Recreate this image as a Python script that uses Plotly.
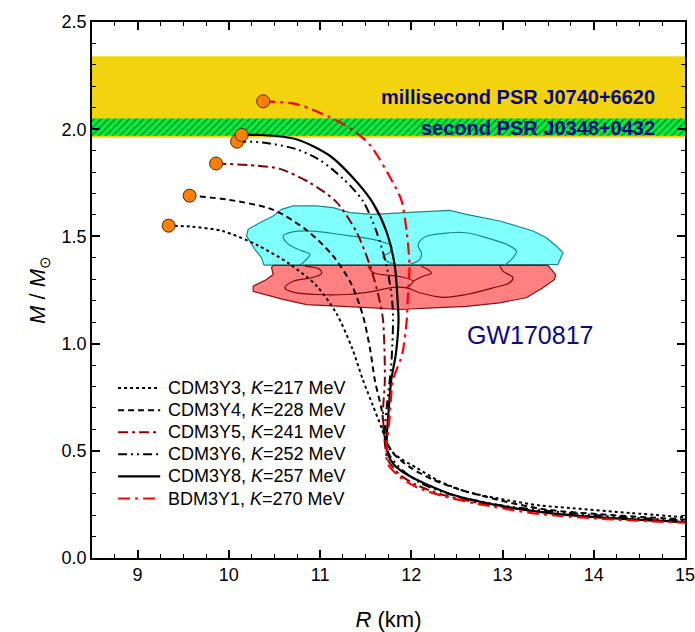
import plotly.graph_objects as go

# ---------------- data ----------------
curve_names = ["CDM3Y3, <i>K</i>=217 MeV", "CDM3Y4, <i>K</i>=228 MeV", "CDM3Y5, <i>K</i>=241 MeV",
               "CDM3Y6, <i>K</i>=252 MeV", "CDM3Y8, <i>K</i>=257 MeV", "BDM3Y1, <i>K</i>=270 MeV"]

r_y3 = [9.34, 9.6, 9.93, 10.31, 10.67, 10.96, 11.18, 11.35, 11.47, 11.58, 11.68, 11.72, 11.78, 11.87, 12.06, 12.3, 12.6, 13.05, 13.41, 13.77, 14.4, 15.0]
m_y3 = [1.55, 1.545, 1.525, 1.46, 1.37, 1.27, 1.14, 0.98, 0.83, 0.71, 0.60, 0.55, 0.50, 0.467, 0.42, 0.36, 0.31, 0.27, 0.245, 0.232, 0.21, 0.19]

r_y4 = [9.57, 10.01, 10.48, 10.85, 11.14, 11.34, 11.47, 11.55, 11.60, 11.68, 11.71, 11.80, 11.98, 12.24, 12.6, 13.41, 14.2, 15.0]
m_y4 = [1.69, 1.67, 1.625, 1.53, 1.41, 1.28, 1.13, 0.97, 0.83, 0.68, 0.565, 0.49, 0.425, 0.365, 0.31, 0.23, 0.20, 0.18]

r_y5 = [9.86, 10.31, 10.56, 10.89, 11.18, 11.40, 11.55, 11.65, 11.69, 11.71, 11.69, 11.71, 11.74, 11.87, 12.06, 12.34, 12.7, 13.4, 14.2, 15.0]
m_y5 = [1.84, 1.83, 1.815, 1.75, 1.66, 1.52, 1.36, 1.205, 1.11, 0.83, 0.68, 0.537, 0.46, 0.39, 0.34, 0.295, 0.26, 0.215, 0.185, 0.168]

r_y6 = [10.09, 10.37, 10.74, 11.0, 11.25, 11.47, 11.62, 11.73, 11.79, 11.80, 11.78, 11.73, 11.71, 11.76, 11.9, 12.1, 12.4, 13.0, 14.0, 15.0]
m_y6 = [1.942, 1.938, 1.907, 1.855, 1.77, 1.665, 1.52, 1.36, 1.20, 1.11, 0.90, 0.70, 0.55, 0.48, 0.41, 0.35, 0.30, 0.245, 0.20, 0.175]

r_y8 = [10.14, 10.37, 10.74, 11.11, 11.41, 11.58, 11.73, 11.82, 11.85, 11.86, 11.83, 11.78, 11.75, 11.73, 11.74, 11.80, 11.91, 12.06, 12.24, 12.42, 12.67, 13.41, 14.14, 15.0]
m_y8 = [1.973, 1.973, 1.953, 1.875, 1.75, 1.655, 1.52, 1.36, 1.20, 1.11, 0.95, 0.83, 0.68, 0.55, 0.49, 0.44, 0.40, 0.365, 0.33, 0.30, 0.27, 0.215, 0.187, 0.168]

r_b1 = [10.376, 10.74, 11.03, 11.29, 11.54, 11.80, 11.89, 11.95, 11.98, 11.96, 11.95, 11.90, 11.80, 11.76, 11.73, 11.74, 11.87, 12.06, 12.34, 12.7, 13.41, 14.2, 15.0]
m_b1 = [2.13, 2.117, 2.07, 2.015, 1.93, 1.75, 1.67, 1.52, 1.36, 1.20, 1.11, 0.95, 0.83, 0.645, 0.52, 0.44, 0.38, 0.33, 0.29, 0.255, 0.205, 0.18, 0.165]

# maximum-mass points
r_max = [9.34, 9.57, 9.86, 10.09, 10.14, 10.376]
m_max = [1.55, 1.69, 1.84, 1.942, 1.973, 2.13]

# observational constraints
psr_j0740 = [1.96, 2.34]
psr_j0348 = [1.97, 2.05]

# GW170817 contours
cyan_out_r = [10.384, 10.359, 10.285, 10.194, 10.212, 10.340, 10.486, 10.578, 10.705, 10.961, 11.143, 11.326, 11.581, 11.837, 12.093, 12.421, 12.604, 12.969, 13.334, 13.480, 13.590, 13.662, 13.607]
cyan_out_m = [1.366, 1.400, 1.439, 1.501, 1.533, 1.564, 1.595, 1.626, 1.642, 1.642, 1.634, 1.611, 1.603, 1.607, 1.614, 1.621, 1.603, 1.572, 1.525, 1.494, 1.455, 1.424, 1.369]

red_out_r = [10.486, 13.498, 13.582, 13.571, 13.443, 13.261, 12.969, 12.604, 12.238, 11.873, 11.581, 11.216, 10.852, 10.595, 10.376, 10.267, 10.267, 10.413, 10.486, 10.468]
red_out_m = [1.365, 1.365, 1.322, 1.299, 1.260, 1.214, 1.190, 1.174, 1.167, 1.159, 1.167, 1.174, 1.182, 1.206, 1.229, 1.244, 1.268, 1.299, 1.322, 1.354]

cyan_in1_r = [10.778, 10.833, 10.888, 10.760, 10.633, 10.595, 10.687, 10.924, 11.216, 11.472, 11.654, 11.783, 11.764, 11.691, 11.728, 11.837]
cyan_in1_m = [1.366, 1.385, 1.416, 1.439, 1.471, 1.501, 1.520, 1.525, 1.509, 1.494, 1.478, 1.455, 1.424, 1.408, 1.385, 1.369]
cyan_in2_r = [11.983, 12.093, 12.111, 12.074, 12.093, 12.166, 12.421, 12.604, 12.823, 13.042, 13.152, 13.114, 13.024]
cyan_in2_m = [1.369, 1.393, 1.424, 1.455, 1.478, 1.501, 1.517, 1.517, 1.494, 1.463, 1.431, 1.400, 1.366]

red_in1_r = [10.833, 10.997, 11.016, 10.906, 10.705, 10.614, 10.705, 10.961, 11.290, 11.581, 11.800, 11.947, 12.093, 12.348, 12.604, 12.895, 13.078, 13.114, 13.005, 12.969]
red_in1_m = [1.361, 1.346, 1.327, 1.307, 1.291, 1.260, 1.240, 1.229, 1.229, 1.244, 1.262, 1.260, 1.237, 1.216, 1.229, 1.260, 1.284, 1.307, 1.338, 1.364]
red_in2_r = [11.526, 11.581, 11.728, 11.873, 12.019, 11.947]
red_in2_m = [1.360, 1.332, 1.320, 1.313, 1.291, 1.260]
red_in3_r = [12.111, 12.221, 12.129, 12.019]
red_in3_m = [1.361, 1.330, 1.314, 1.291]

x_range = [8.5, 15.0]
y_range = [0.0, 2.5]

# ---------------- figure ----------------
FONT = "Arial, Liberation Sans, sans-serif"
NAVY = "#0a0a80"
fig = go.Figure()

# yellow band (PSR J0740+6620)
fig.add_shape(type="rect", xref="paper", x0=0, x1=1, yref="y", y0=psr_j0740[0], y1=psr_j0740[1],
              fillcolor="#F3D30D", line=dict(width=0), layer="below")

# hatched green band (PSR J0348+0432)
fig.add_trace(go.Scatter(x=[x_range[0], x_range[1], x_range[1], x_range[0], x_range[0]],
                         y=[psr_j0348[0], psr_j0348[0], psr_j0348[1], psr_j0348[1], psr_j0348[0]],
                         mode="lines", fill="toself", line=dict(width=0), fillcolor="#00F040",
                         fillpattern=dict(shape="/", bgcolor="#00F040", fgcolor="#000000", size=5, solidity=0.25),
                         showlegend=False, hoverinfo="skip"))

# GW170817 regions
fig.add_trace(go.Scatter(x=cyan_out_r + [cyan_out_r[0]], y=cyan_out_m + [cyan_out_m[0]], mode="lines",
                         fill="toself", fillcolor="#80FFFF", line=dict(color="#168A8A", width=1.2),
                         showlegend=False, hoverinfo="skip"))
fig.add_trace(go.Scatter(x=red_out_r + [red_out_r[0]], y=red_out_m + [red_out_m[0]], mode="lines",
                         fill="toself", fillcolor="#FF8080", line=dict(color="#8B1010", width=1.2),
                         showlegend=False, hoverinfo="skip"))
for xs, ys in [(cyan_in1_r, cyan_in1_m), (cyan_in2_r, cyan_in2_m)]:
    fig.add_trace(go.Scatter(x=xs, y=ys, mode="lines", line=dict(color="#168A8A", width=1.2, shape="spline"),
                             showlegend=False, hoverinfo="skip"))
for xs, ys in [(red_in1_r, red_in1_m), (red_in2_r, red_in2_m), (red_in3_r, red_in3_m)]:
    fig.add_trace(go.Scatter(x=xs, y=ys, mode="lines", line=dict(color="#7A0A0A", width=1.2, shape="spline"),
                             showlegend=False, hoverinfo="skip"))

# M-R curves
styles = [("black", "dot", 2.0),
          ("black", "6px,4px", 2.0),
          ("#8B0000", "10px,4px,3px,4px", 2.0),
          ("black", "9px,4px,2px,4px,2px,4px", 2.0),
          ("black", "solid", 2.2),
          ("#FF0000", "12px,5px,3px,5px", 2.2)]
series = [(r_y3, m_y3), (r_y4, m_y4), (r_y5, m_y5), (r_y6, m_y6), (r_y8, m_y8), (r_b1, m_b1)]
for name, (xs, ys), (col, dash, w) in zip(curve_names, series, styles):
    fig.add_trace(go.Scatter(x=xs, y=ys, mode="lines", name=name, showlegend=False,
                             line=dict(color=col, dash=dash, width=w, shape="spline", smoothing=0.8)))

fig.add_trace(go.Scatter(x=r_max, y=m_max, mode="markers", showlegend=False,
                         marker=dict(size=13, color="#FF8000", line=dict(color="#4a2a00", width=1))))

# hand-built legend (tight row spacing like the original)
leg_x0, leg_x1, leg_tx = 0.044, 0.115, 0.125
leg_y0, leg_dy = 0.317, 0.0412
for i, (name, (col, dash, w)) in enumerate(zip(curve_names, styles)):
    yy = leg_y0 - i * leg_dy
    fig.add_shape(type="line", xref="paper", yref="paper", x0=leg_x0, x1=leg_x1, y0=yy, y1=yy,
                  line=dict(color=col, dash=dash, width=w))
    fig.add_annotation(x=leg_tx, y=yy, xref="paper", yref="paper", text=name, showarrow=False,
                       xanchor="left", yanchor="middle", font=dict(family=FONT, size=18, color="black"))

# annotations
fig.add_annotation(x=0.953, xref="paper", y=2.15, yref="y", text="<b>millisecond PSR J0740+6620</b>",
                   showarrow=False, xanchor="right", yanchor="middle", font=dict(family=FONT, size=20, color=NAVY))
fig.add_annotation(x=0.953, xref="paper", y=2.005, yref="y", text="<b>second PSR J0348+0432</b>",
                   showarrow=False, xanchor="right", yanchor="middle", font=dict(family=FONT, size=20, color=NAVY))
fig.add_annotation(x=13.30, y=1.042, text="GW170817", showarrow=False, xanchor="center", yanchor="middle",
                   font=dict(family=FONT, size=25, color=NAVY))

axis_common = dict(showline=True, linecolor="black", linewidth=1.5, mirror="ticks", ticks="inside",
                   tickcolor="black", tickwidth=1.5, ticklen=8, showgrid=False, zeroline=False,
                   automargin=False, ticklabeloverflow="allow",
                   tickfont=dict(family=FONT, size=18, color="black"))
fig.update_xaxes(range=x_range, dtick=1, tick0=9,
                 minor=dict(ticks="inside", dtick=0.25, ticklen=4, tickcolor="black", tickwidth=1.2),
                 title=dict(text="<i>R</i> (km)", font=dict(family=FONT, size=22, color="black"), standoff=30),
                 **axis_common)
fig.update_yaxes(range=y_range, dtick=0.5, tickformat=".1f",
                 minor=dict(ticks="inside", dtick=0.1, ticklen=4, tickcolor="black", tickwidth=1.2),
                 title=dict(text="<i>M</i> / <i>M</i><sub>⊙</sub>", font=dict(family=FONT, size=22, color="black"), standoff=10),
                 **axis_common)

fig.update_layout(width=695, height=632, margin=dict(l=92, r=10, t=22, b=74),
                  paper_bgcolor="white", plot_bgcolor="white", showlegend=False,
                  font=dict(family=FONT, color="black"))

fig.write_html("out.html")
